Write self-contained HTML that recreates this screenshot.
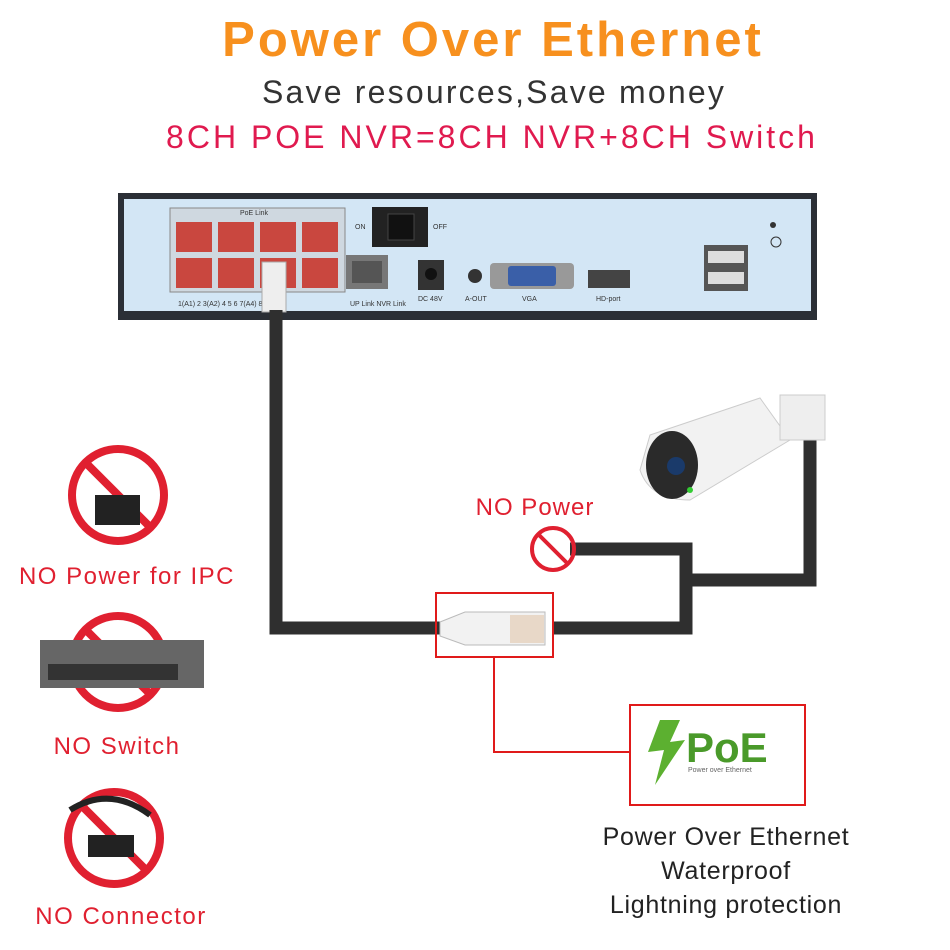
<!DOCTYPE html>
<html><head><meta charset="utf-8"><style>
body{margin:0;width:950px;height:950px;background:#fff;position:relative;overflow:hidden;font-family:"Liberation Sans",sans-serif}
.t{position:absolute;white-space:nowrap;text-align:center}
</style></head><body>
<div class="t" style="left:0;width:986px;top:12px;font-size:49px;font-weight:bold;color:#f7901e;letter-spacing:3px">Power Over Ethernet</div>
<div class="t" style="left:0;width:988px;top:74px;font-size:32px;color:#333;letter-spacing:2.2px">Save resources,Save money</div>
<div class="t" style="left:0;width:984px;top:119px;font-size:32px;color:#e01a4f;letter-spacing:3px">8CH POE NVR=8CH NVR+8CH Switch</div>

<svg width="950" height="950" style="position:absolute;left:0;top:0">
<rect x="118" y="193" width="699" height="127" fill="#2b2f36"/>
<rect x="124" y="199" width="687" height="112" fill="#d3e6f5"/>
<rect x="170" y="208" width="175" height="84" fill="#cfd8e0" stroke="#888"/>
<g fill="#c9473f">
<rect x="176" y="222" width="36" height="30"/><rect x="218" y="222" width="36" height="30"/><rect x="260" y="222" width="36" height="30"/><rect x="302" y="222" width="36" height="30"/>
<rect x="176" y="258" width="36" height="30"/><rect x="218" y="258" width="36" height="30"/><rect x="260" y="258" width="36" height="30"/><rect x="302" y="258" width="36" height="30"/>
</g>
<rect x="346" y="255" width="42" height="34" fill="#777"/><rect x="352" y="261" width="30" height="22" fill="#555"/>
<rect x="372" y="207" width="56" height="40" fill="#222"/><rect x="388" y="214" width="26" height="26" fill="#111" stroke="#444"/>
<rect x="418" y="260" width="26" height="30" fill="#333"/><circle cx="431" cy="274" r="6" fill="#111"/>
<circle cx="475" cy="276" r="7" fill="#333"/>
<rect x="490" y="263" width="84" height="26" rx="4" fill="#999"/><rect x="508" y="266" width="48" height="20" rx="3" fill="#3a5fa8"/>
<rect x="588" y="270" width="42" height="18" fill="#444"/>
<rect x="704" y="245" width="44" height="46" fill="#555"/><rect x="708" y="251" width="36" height="12" fill="#ddd"/><rect x="708" y="272" width="36" height="12" fill="#ddd"/>
<circle cx="773" cy="225" r="3" fill="#333"/><circle cx="776" cy="242" r="5" fill="none" stroke="#333"/>
<g font-size="7" fill="#333" font-family="Liberation Sans">
<text x="240" y="215">PoE Link</text><text x="355" y="229">ON</text><text x="433" y="229">OFF</text>
<text x="178" y="306">1(A1)  2  3(A2)  4  5  6  7(A4)  8</text><text x="350" y="306">UP Link NVR Link</text>
<text x="418" y="301">DC 48V</text><text x="465" y="301">A-OUT</text><text x="522" y="301">VGA</text><text x="596" y="301">HD-port</text>
</g>
<rect x="262" y="262" width="24" height="50" fill="#eee" stroke="#aaa"/>
<g fill="none" stroke="#2f2f2f" stroke-width="13">
<path d="M276 310 V628 H440"/>
<path d="M553 628 H686 V549 H570"/>
<path d="M686 580 H810 V440"/>
</g>
<rect x="436" y="593" width="117" height="64" fill="none" stroke="#e01a1a" stroke-width="2"/>
<path d="M440 622 L465 612 H545 V645 H465 L440 636Z" fill="#f2f2f2" stroke="#bbb"/>
<rect x="510" y="615" width="34" height="28" fill="#e8d8c8"/>
<path d="M494 658 V752 H630" fill="none" stroke="#e01a1a" stroke-width="2"/>
<circle cx="553" cy="549" r="21" fill="none" stroke="#e02030" stroke-width="4"/>
<line x1="538" y1="534" x2="568" y2="564" stroke="#e02030" stroke-width="4"/>
<path d="M650 435 L760 398 L790 440 L690 500 Q650 500 640 470Z" fill="#f2f2f2" stroke="#ccc"/>
<ellipse cx="672" cy="465" rx="26" ry="34" fill="#2a2a2a"/>
<circle cx="676" cy="466" r="9" fill="#1a3a6a"/><circle cx="690" cy="490" r="3" fill="#3c3"/>
<rect x="780" y="395" width="45" height="45" fill="#eee" stroke="#ccc"/>
<rect x="630" y="705" width="175" height="100" fill="#fff" stroke="#e01a1a" stroke-width="2"/>
<path d="M660 720 L648 752 L664 750 L655 785 L685 740 L670 742 L680 720Z" fill="#5cb030"/>
<text x="686" y="762" font-size="42" font-weight="bold" fill="#4a9a2a" font-family="Liberation Sans">PoE</text>
<text x="688" y="772" font-size="7" fill="#666" font-family="Liberation Sans">Power over Ethernet</text>
<g stroke="#e02030" stroke-width="8" fill="none">
<circle cx="118" cy="495" r="46"/><line x1="86" y1="463" x2="150" y2="527"/>
<circle cx="118" cy="662" r="46"/><line x1="86" y1="630" x2="150" y2="694"/>
<circle cx="114" cy="838" r="46"/><line x1="82" y1="806" x2="146" y2="870"/>
</g>
<rect x="95" y="495" width="45" height="30" fill="#222"/>
<rect x="40" y="640" width="164" height="48" fill="#666"/><rect x="48" y="664" width="130" height="16" fill="#333"/>
<path d="M70 810 Q110 785 150 815" stroke="#222" stroke-width="6" fill="none"/><rect x="88" y="835" width="46" height="22" fill="#222"/>
</svg>

<div class="t" style="left:450px;width:170px;top:494px;font-size:24px;color:#e02030;letter-spacing:1px">NO Power</div>
<div class="t" style="left:0;width:254px;top:563px;font-size:24px;color:#e02030;letter-spacing:1.5px">NO Power for IPC</div>
<div class="t" style="left:0;width:234px;top:733px;font-size:24px;color:#e02030;letter-spacing:1.5px">NO Switch</div>
<div class="t" style="left:0;width:242px;top:903px;font-size:24px;color:#e02030;letter-spacing:1.5px">NO Connector</div>
<div class="t" style="left:590px;width:272px;top:820px;font-size:25px;color:#222;line-height:34px;letter-spacing:0.7px">Power Over Ethernet<br>Waterproof<br>Lightning protection</div>
</body></html>
